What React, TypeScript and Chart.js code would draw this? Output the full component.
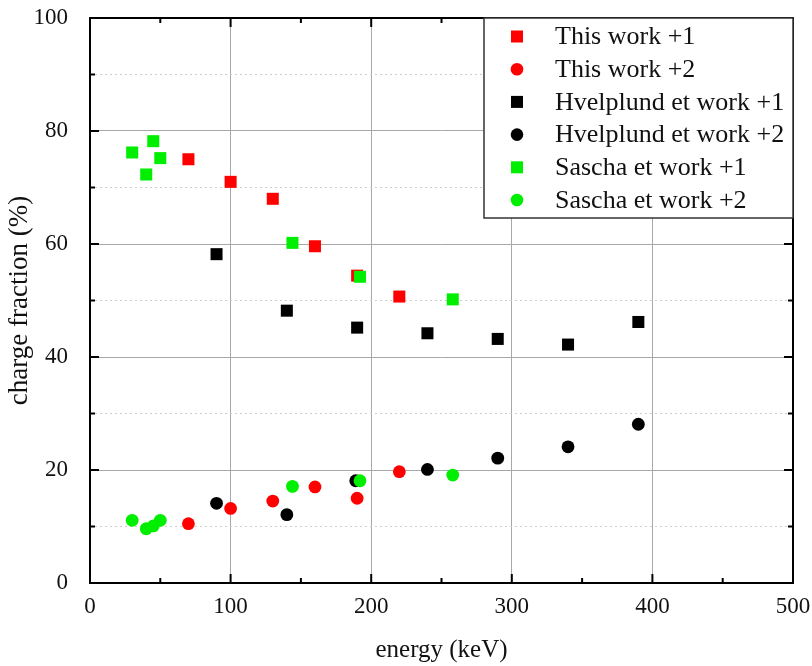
import React, { useEffect, useRef } from "react";
import { Chart, registerables } from "chart.js";

Chart.register(...registerables);

const thisWork1X = [70, 100, 130, 160, 190, 220];
const thisWork1Y = [75, 71, 68, 59.6, 54.4, 50.7];
const thisWork2X = [70, 100, 130, 160, 190, 220];
const thisWork2Y = [10.5, 13.2, 14.5, 17, 15, 19.7];
const hvel1X = [90, 140, 190, 240, 290, 340, 390];
const hvel1Y = [58.2, 48.2, 45.2, 44.2, 43.2, 42.2, 46.2];
const hvel2X = [90, 140, 189, 240, 290, 340, 390];
const hvel2Y = [14.1, 12.1, 18.1, 20.1, 22.1, 24.1, 28.1];
const sascha1X = [30, 40, 45, 50, 144, 192, 258];
const sascha1Y = [76.2, 72.3, 78.2, 75.2, 60.2, 54.2, 50.2];
const sascha2X = [30, 40, 45, 50, 144, 192, 258];
const sascha2Y = [11.1, 9.6, 10.1, 11.1, 17.1, 18.1, 19.1];

const seriesLabels = [
  "This work +1",
  "This work +2",
  "Hvelplund et work +1",
  "Hvelplund et work +2",
  "Sascha et work +1",
  "Sascha et work +2",
];
const seriesColors = ["#ff0000", "#ff0000", "#000000", "#000000", "#00ee00", "#00ee00"];
const seriesShapes = ["rect", "circle", "rect", "circle", "rect", "circle"];
const seriesOrder = [3, 3, 2, 2, 1, 1];

const xLabels = [0, 100, 200, 300, 400, 500];
const yLabels = [0, 20, 40, 60, 80, 100];

const FONT = "'Liberation Serif', 'Times New Roman', serif";

const zip = (xs: number[], ys: number[]) => xs.map((x, i) => ({ x, y: ys[i] }));

const framePlugin = {
  id: "frameTicks",
  afterDatasetsDraw(chart: any) {
    const { ctx, chartArea: a, scales } = chart;
    ctx.save();
    ctx.strokeStyle = "#000";
    ctx.lineWidth = 2;
    ctx.beginPath();
    scales.x.ticks.forEach((t: any) => {
      const px = scales.x.getPixelForValue(t.value);
      const len = xLabels.includes(t.value) ? 9 : 5;
      ctx.moveTo(px, a.bottom);
      ctx.lineTo(px, a.bottom - len);
      ctx.moveTo(px, a.top);
      ctx.lineTo(px, a.top + len);
    });
    scales.y.ticks.forEach((t: any) => {
      const py = scales.y.getPixelForValue(t.value);
      const len = yLabels.includes(t.value) ? 9 : 5;
      ctx.moveTo(a.left, py);
      ctx.lineTo(a.left + len, py);
      ctx.moveTo(a.right, py);
      ctx.lineTo(a.right - len, py);
    });
    ctx.stroke();
    ctx.strokeRect(a.left, a.top, a.right - a.left, a.bottom - a.top);

    // legend box
    const w = 309;
    const h = 200;
    const lx = a.right - w;
    const ly = a.top;
    ctx.fillStyle = "#fff";
    ctx.fillRect(lx, ly, w, h);
    ctx.lineWidth = 1.5;
    ctx.strokeStyle = "#333";
    ctx.strokeRect(lx, ly, w, h);
    ctx.font = `26px ${FONT}`;
    ctx.textBaseline = "middle";
    ctx.textAlign = "left";
    chart.data.datasets.forEach((ds: any, i: number) => {
      const cy = ly + 18.5 + i * 32.7;
      const cx = lx + 33;
      ctx.fillStyle = ds.backgroundColor;
      if (ds.pointStyle === "rect") {
        ctx.fillRect(cx - 6, cy - 6, 12, 12);
      } else {
        ctx.beginPath();
        ctx.arc(cx, cy, 6.3, 0, Math.PI * 2);
        ctx.fill();
      }
      ctx.fillStyle = "#111";
      ctx.fillText(ds.label, lx + 71, cy + 1);
    });
    ctx.restore();
  },
};

export default function App() {
  const ref = useRef<HTMLCanvasElement>(null);
  useEffect(() => {
    document.body.style.margin = "0";
    const xsets = [thisWork1X, thisWork2X, hvel1X, hvel2X, sascha1X, sascha2X];
    const ysets = [thisWork1Y, thisWork2Y, hvel1Y, hvel2Y, sascha1Y, sascha2Y];
    const datasets = seriesLabels.map((label, i) => ({
      label,
      data: zip(xsets[i], ysets[i]),
      backgroundColor: seriesColors[i],
      borderColor: seriesColors[i],
      borderWidth: 0,
      pointStyle: seriesShapes[i],
      pointRadius: seriesShapes[i] === "rect" ? 8.5 : 6.4,
      order: seriesOrder[i],
    }));
    const chart = new Chart(ref.current as HTMLCanvasElement, {
      type: "scatter",
      data: { datasets } as any,
      options: {
        responsive: false,
        animation: false,
        layout: { padding: { left: 0, right: 19, top: 18, bottom: 0 } },
        plugins: { legend: { display: false }, tooltip: { enabled: false } },
        scales: {
          x: {
            type: "linear",
            min: 0,
            max: 500,
            afterFit: (s: any) => {
              s.height = 83;
              s.paddingLeft = 0;
              s.paddingRight = 0;
            },
            afterBuildTicks: (s: any) => {
              const t = [];
              for (let v = 0; v <= 500; v += 50) t.push({ value: v });
              s.ticks = t;
            },
            ticks: {
              autoSkip: false,
              maxRotation: 0,
              padding: 10,
              color: "#111",
              font: { family: FONT, size: 23 },
              callback: (v: any) => (xLabels.includes(Number(v)) ? String(v) : ""),
            },
            grid: {
              drawTicks: false,
              color: (c: any) =>
                c.tick && xLabels.includes(c.tick.value) ? "#a8a8a8" : "rgba(0,0,0,0)",
              lineWidth: 1,
            },
            border: { display: false },
            title: {
              display: true,
              text: "energy (keV)",
              color: "#111",
              font: { family: FONT, size: 25 },
              padding: { top: 0, bottom: 1 },
            },
          },
          y: {
            type: "linear",
            min: 0,
            max: 100,
            afterFit: (s: any) => {
              s.width = 90;
              s.paddingTop = 0;
              s.paddingBottom = 0;
            },
            afterBuildTicks: (s: any) => {
              const t = [];
              for (let v = 0; v <= 100; v += 10) t.push({ value: v });
              s.ticks = t;
            },
            ticks: {
              autoSkip: false,
              padding: 22,
              color: "#111",
              font: { family: FONT, size: 23 },
              callback: (v: any) => (yLabels.includes(Number(v)) ? String(v) : ""),
            },
            grid: {
              drawTicks: false,
              color: (c: any) =>
                c.tick && yLabels.includes(c.tick.value) ? "#a8a8a8" : "#cdcdcd",
              lineWidth: 1,
            },
            border: {
              display: false,
              dash: (c: any) => (c.tick && !yLabels.includes(c.tick.value) ? [2, 3] : []),
            } as any,
            title: {
              display: true,
              text: "charge fraction (%)",
              color: "#111",
              font: { family: FONT, size: 27 },
              padding: { top: 4, bottom: 0 },
            },
          },
        },
      } as any,
      plugins: [framePlugin],
    });
    return () => chart.destroy();
  }, []);
  return <canvas ref={ref} width={812} height={666} style={{ display: "block" }} />;
}
